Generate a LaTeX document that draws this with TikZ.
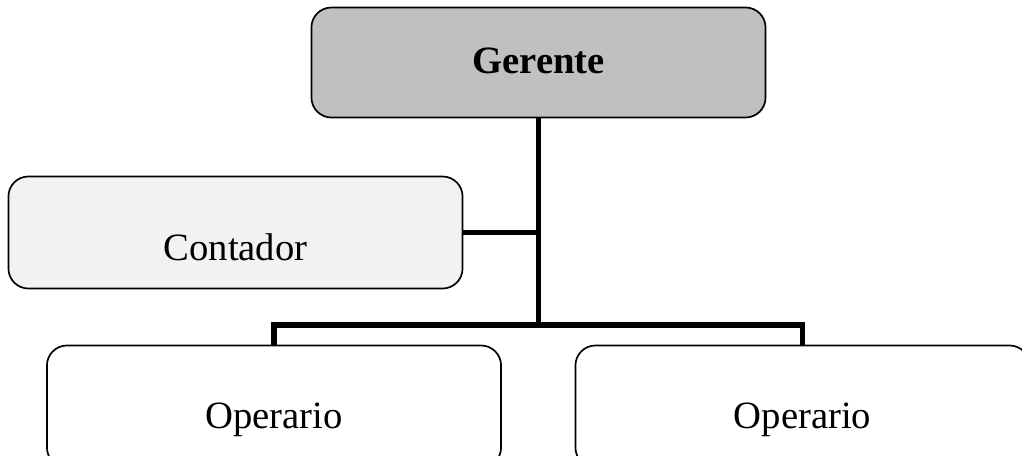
\documentclass[tikz,border=0pt]{standalone}
\usepackage{fontspec}
\setmainfont{Liberation Serif}
\definecolor{jefe}{HTML}{C0C0C0}
\definecolor{apoyo}{HTML}{F2F2F2}
\begin{document}
\begin{tikzpicture}[x=0.025cm, y=-0.025cm,
  caja/.style={draw, line width=1.2pt, rounded corners=0.5cm, inner sep=0pt,
    minimum width=11.35cm, text depth=0pt, font=\fontsize{27.5}{31}\selectfont},
  enlace/.style={line width=3.6pt}]
\useasboundingbox (0,0) rectangle (1022,455);
\clip (0,0) rectangle (1022,455);
\node at (538.5,62.5) [caja, fill=jefe, minimum height=2.75cm, text height=0.525cm] (gerente) {\textbf{Gerente}};
\node at (235.5,232.5) [caja, fill=apoyo, minimum height=2.8cm, text height=1.375cm] (contador) {Contador};
\node at (274,406.5) [caja, minimum height=3.05cm, text height=1.075cm] (operario1) {Operario};
\node at (802.5,406.5) [caja, minimum height=3.05cm, text height=1.075cm] (operario2) {Operario};
\coordinate (barra) at (538.5,325);
\draw [enlace] (gerente.south) -- (barra);
\draw [enlace] (contador.east) -- (contador.east -| gerente.south);
\draw [enlace] (operario1.north) |- (barra) -| (operario2.north);
\end{tikzpicture}
\end{document}
